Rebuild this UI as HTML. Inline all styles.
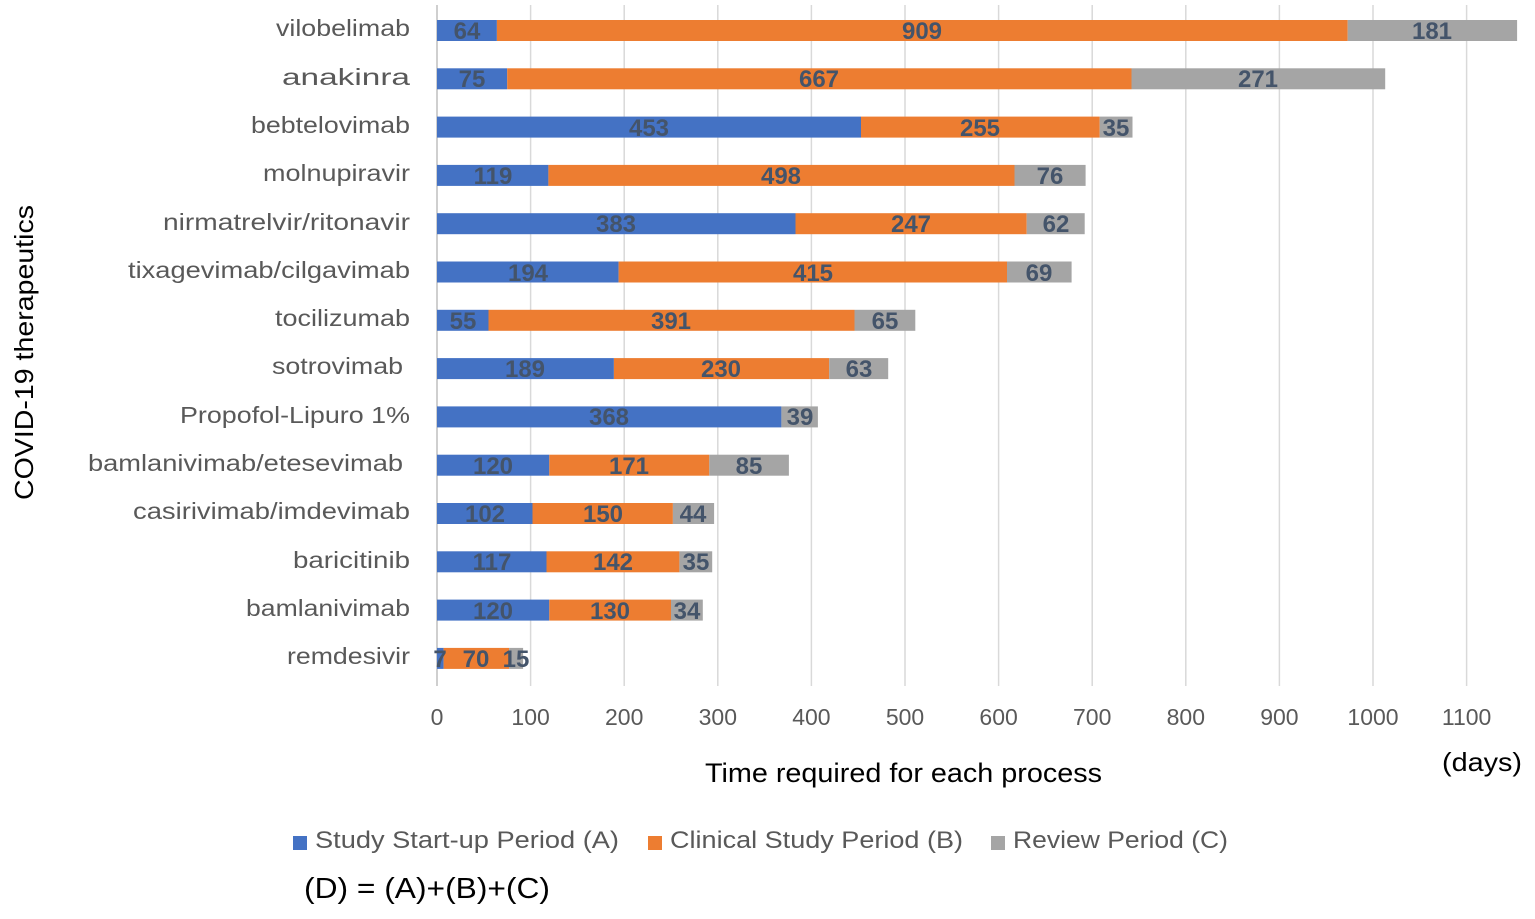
<!DOCTYPE html>
<html><head><meta charset="utf-8"><style>body{margin:0;background:#fff}svg{display:block}</style></head><body>
<svg width="1535" height="919" xmlns="http://www.w3.org/2000/svg">
<g stroke="#d9d9d9" stroke-width="1.5">
<line x1="530.6" y1="5" x2="530.6" y2="686"/><line x1="624.2" y1="5" x2="624.2" y2="686"/><line x1="717.8" y1="5" x2="717.8" y2="686"/><line x1="811.4" y1="5" x2="811.4" y2="686"/><line x1="905" y1="5" x2="905" y2="686"/><line x1="998.6" y1="5" x2="998.6" y2="686"/><line x1="1092.2" y1="5" x2="1092.2" y2="686"/><line x1="1185.8" y1="5" x2="1185.8" y2="686"/><line x1="1279.4" y1="5" x2="1279.4" y2="686"/><line x1="1373" y1="5" x2="1373" y2="686"/><line x1="1466.6" y1="5" x2="1466.6" y2="686"/>
</g>
<line x1="437" y1="5" x2="437" y2="686" stroke="#bfbfbf" stroke-width="1.5"/>
<g>
<rect x="437" y="20" width="59.9" height="21" fill="#4472C4"/><rect x="496.9" y="20" width="850.8" height="21" fill="#ED7D31"/><rect x="1347.7" y="20" width="169.4" height="21" fill="#A5A5A5"/>
<rect x="437" y="68.3" width="70.2" height="21" fill="#4472C4"/><rect x="507.2" y="68.3" width="624.3" height="21" fill="#ED7D31"/><rect x="1131.5" y="68.3" width="253.7" height="21" fill="#A5A5A5"/>
<rect x="437" y="116.6" width="424" height="21" fill="#4472C4"/><rect x="861" y="116.6" width="238.7" height="21" fill="#ED7D31"/><rect x="1099.7" y="116.6" width="32.8" height="21" fill="#A5A5A5"/>
<rect x="437" y="164.9" width="111.4" height="21" fill="#4472C4"/><rect x="548.4" y="164.9" width="466.1" height="21" fill="#ED7D31"/><rect x="1014.5" y="164.9" width="71.1" height="21" fill="#A5A5A5"/>
<rect x="437" y="213.2" width="358.5" height="21" fill="#4472C4"/><rect x="795.5" y="213.2" width="231.2" height="21" fill="#ED7D31"/><rect x="1026.7" y="213.2" width="58" height="21" fill="#A5A5A5"/>
<rect x="437" y="261.5" width="181.6" height="21" fill="#4472C4"/><rect x="618.6" y="261.5" width="388.4" height="21" fill="#ED7D31"/><rect x="1007" y="261.5" width="64.6" height="21" fill="#A5A5A5"/>
<rect x="437" y="309.8" width="51.5" height="21" fill="#4472C4"/><rect x="488.5" y="309.8" width="366" height="21" fill="#ED7D31"/><rect x="854.5" y="309.8" width="60.8" height="21" fill="#A5A5A5"/>
<rect x="437" y="358.1" width="176.9" height="21" fill="#4472C4"/><rect x="613.9" y="358.1" width="215.3" height="21" fill="#ED7D31"/><rect x="829.2" y="358.1" width="59" height="21" fill="#A5A5A5"/>
<rect x="437" y="406.4" width="344.4" height="21" fill="#4472C4"/><rect x="781.4" y="406.4" width="36.5" height="21" fill="#A5A5A5"/>
<rect x="437" y="454.7" width="112.3" height="21" fill="#4472C4"/><rect x="549.3" y="454.7" width="160" height="21" fill="#ED7D31"/><rect x="709.3" y="454.7" width="79.6" height="21" fill="#A5A5A5"/>
<rect x="437" y="503" width="95.5" height="21" fill="#4472C4"/><rect x="532.5" y="503" width="140.4" height="21" fill="#ED7D31"/><rect x="672.9" y="503" width="41.2" height="21" fill="#A5A5A5"/>
<rect x="437" y="551.3" width="109.5" height="21" fill="#4472C4"/><rect x="546.5" y="551.3" width="132.9" height="21" fill="#ED7D31"/><rect x="679.4" y="551.3" width="32.8" height="21" fill="#A5A5A5"/>
<rect x="437" y="599.6" width="112.3" height="21" fill="#4472C4"/><rect x="549.3" y="599.6" width="121.7" height="21" fill="#ED7D31"/><rect x="671" y="599.6" width="31.8" height="21" fill="#A5A5A5"/>
<rect x="437" y="647.9" width="6.6" height="21" fill="#4472C4"/><rect x="443.6" y="647.9" width="65.5" height="21" fill="#ED7D31"/><rect x="509.1" y="647.9" width="14" height="21" fill="#A5A5A5"/>
</g>
<g font-family="Liberation Sans, sans-serif" font-size="24" font-weight="bold" fill="#44546A" text-anchor="middle">
<text x="467" y="39">64</text><text x="922" y="39">909</text><text x="1432" y="39">181</text>
<text x="472" y="87">75</text><text x="819" y="87">667</text><text x="1258" y="87">271</text>
<text x="649" y="136">453</text><text x="980" y="136">255</text><text x="1116" y="136">35</text>
<text x="493" y="184">119</text><text x="781" y="184">498</text><text x="1050" y="184">76</text>
<text x="616" y="232">383</text><text x="911" y="232">247</text><text x="1056" y="232">62</text>
<text x="528" y="281">194</text><text x="813" y="281">415</text><text x="1039" y="281">69</text>
<text x="463" y="329">55</text><text x="671" y="329">391</text><text x="885" y="329">65</text>
<text x="525" y="377">189</text><text x="721" y="377">230</text><text x="859" y="377">63</text>
<text x="609" y="425">368</text><text x="800" y="425">39</text>
<text x="493" y="474">120</text><text x="629" y="474">171</text><text x="749" y="474">85</text>
<text x="485" y="522">102</text><text x="603" y="522">150</text><text x="693" y="522">44</text>
<text x="492" y="570">117</text><text x="613" y="570">142</text><text x="696" y="570">35</text>
<text x="493" y="619">120</text><text x="610" y="619">130</text><text x="687" y="619">34</text>
<text x="440" y="667">7</text><text x="476" y="667">70</text><text x="516" y="667">15</text>
</g>
<g font-family="Liberation Sans, sans-serif" font-size="23" fill="#595959" lengthAdjust="spacingAndGlyphs">
<text x="276" y="36" textLength="134" lengthAdjust="spacingAndGlyphs">vilobelimab</text>
<text x="282" y="85" textLength="128" lengthAdjust="spacingAndGlyphs">anakinra</text>
<text x="251" y="133" textLength="159" lengthAdjust="spacingAndGlyphs">bebtelovimab</text>
<text x="263" y="181" textLength="147" lengthAdjust="spacingAndGlyphs">molnupiravir</text>
<text x="163" y="230" textLength="247" lengthAdjust="spacingAndGlyphs">nirmatrelvir/ritonavir</text>
<text x="128" y="278" textLength="282" lengthAdjust="spacingAndGlyphs">tixagevimab/cilgavimab</text>
<text x="275" y="326" textLength="135" lengthAdjust="spacingAndGlyphs">tocilizumab</text>
<text x="272" y="374" textLength="131" lengthAdjust="spacingAndGlyphs">sotrovimab</text>
<text x="180" y="423" textLength="230" lengthAdjust="spacingAndGlyphs">Propofol-Lipuro 1%</text>
<text x="88" y="471" textLength="315" lengthAdjust="spacingAndGlyphs">bamlanivimab/etesevimab</text>
<text x="133" y="519" textLength="277" lengthAdjust="spacingAndGlyphs">casirivimab/imdevimab</text>
<text x="293" y="568" textLength="117" lengthAdjust="spacingAndGlyphs">baricitinib</text>
<text x="246" y="616" textLength="164" lengthAdjust="spacingAndGlyphs">bamlanivimab</text>
<text x="287" y="664" textLength="123" lengthAdjust="spacingAndGlyphs">remdesivir</text>
</g>
<g font-family="Liberation Sans, sans-serif" font-size="23" fill="#595959" text-anchor="middle">
<text x="437" y="725">0</text><text x="530.6" y="725">100</text><text x="624.2" y="725">200</text><text x="717.8" y="725">300</text><text x="811.4" y="725">400</text><text x="905" y="725">500</text><text x="998.6" y="725">600</text><text x="1092.2" y="725">700</text><text x="1185.8" y="725">800</text><text x="1279.4" y="725">900</text><text x="1373" y="725">1000</text><text x="1466.6" y="725">1100</text>
</g>
<g font-family="Liberation Sans, sans-serif" fill="#000">
<text x="705" y="782" font-size="27" textLength="397" lengthAdjust="spacingAndGlyphs">Time required for each process</text>
<text x="1442" y="771" font-size="26" textLength="80" lengthAdjust="spacingAndGlyphs">(days)</text>
<text transform="translate(33,500) rotate(-90)" font-size="26" textLength="295" lengthAdjust="spacingAndGlyphs">COVID-19 therapeutics</text>
<text x="304" y="898" font-size="29" textLength="246" lengthAdjust="spacingAndGlyphs">(D) = (A)+(B)+(C)</text>
</g>
<g font-family="Liberation Sans, sans-serif" font-size="24" fill="#595959">
<rect x="293" y="836" width="14" height="14" fill="#4472C4"/><text x="315" y="848" textLength="304" lengthAdjust="spacingAndGlyphs">Study Start-up Period (A)</text>
<rect x="648" y="836" width="14" height="14" fill="#ED7D31"/><text x="670" y="848" textLength="293" lengthAdjust="spacingAndGlyphs">Clinical Study Period (B)</text>
<rect x="991" y="836" width="14" height="14" fill="#A5A5A5"/><text x="1013" y="848" textLength="215" lengthAdjust="spacingAndGlyphs">Review Period (C)</text>
</g>
</svg>
</body></html>
